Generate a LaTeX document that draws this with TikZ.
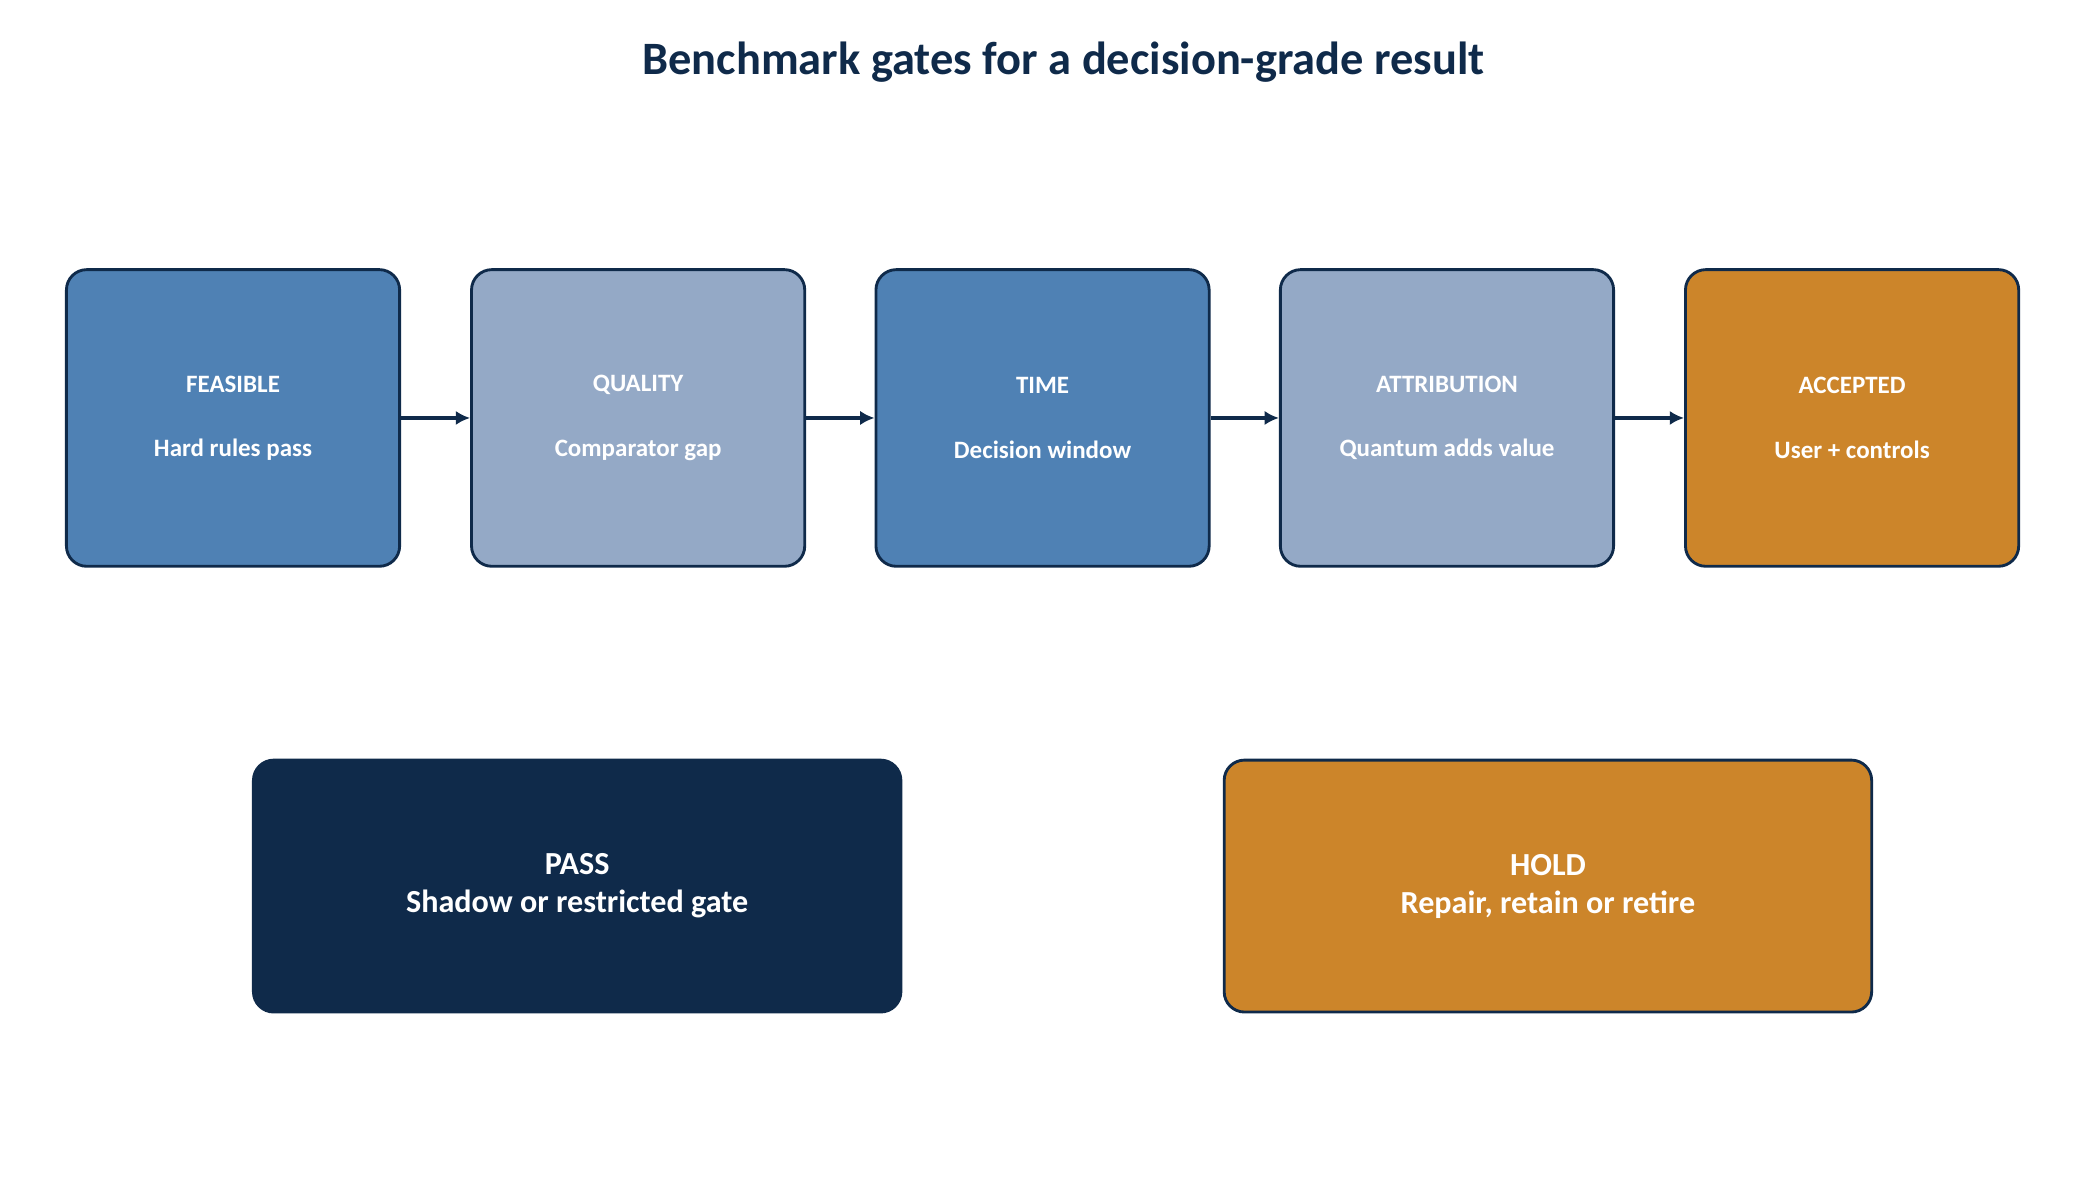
\documentclass[tikz,border=0pt]{standalone}
\usepackage{fontspec}
\setmainfont{Carlito}
\usetikzlibrary{arrows.meta,positioning}
\definecolor{navy}{HTML}{0F2A4A}
\definecolor{gblue}{HTML}{4F81B4}
\definecolor{glight}{HTML}{94A9C6}
\definecolor{gorange}{HTML}{CC852A}
\tikzset{
  gate/.style={draw=navy,line width=1.2pt,rounded corners=0.3cm,minimum width=4.92cm,minimum height=4.38cm,
    text=white,font=\bfseries\fontsize{10.5}{13}\selectfont,align=center},
  outcome/.style={draw=navy,line width=1.2pt,rounded corners=0.3cm,minimum width=9.56cm,minimum height=3.72cm,
    text=white,font=\bfseries\fontsize{13.5}{16}\selectfont,align=center},
  flow/.style={-{Latex[length=6pt,width=6pt]},draw=navy,line width=2pt}
}
\begin{document}
\begin{tikzpicture}[x=0.02cm,y=-0.02cm]
	\useasboundingbox (0,0) rectangle (1550,871);
	
	% Title
	\node[font=\bfseries\fontsize{19.5}{22}\selectfont,text=navy] (title) at (785,46) {Benchmark gates for a decision-grade result};
	
	% Gates
	\node[gate,fill=gblue] (feasible) at (172,308.5) {FEASIBLE\\[14pt]Hard rules pass};
	\node[gate,fill=glight] (quality) at (471,308.5) {QUALITY\\[14pt]Comparator gap};
	\node[gate,fill=gblue] (time) at (769.5,308.5) {TIME\\[14pt]Decision window};
	\node[gate,fill=glight] (attribution) at (1068,308.5) {ATTRIBUTION\\[14pt]Quantum adds value};
	\node[gate,fill=gorange] (accepted) at (1367,308.5) {ACCEPTED\\[14pt]User + controls};
	
	\draw[flow] (feasible) -- (quality);
	\draw[flow] (quality) -- (time);
	\draw[flow] (time) -- (attribution);
	\draw[flow] (attribution) -- (accepted);
	
	% Outcomes
	\node[outcome,fill=navy] (pass) at (426,654) {PASS\\Shadow or restricted gate};
	\node[outcome,fill=gorange] (hold) at (1142.5,654) {HOLD\\Repair, retain or retire};
	
\end{tikzpicture}
\end{document}
